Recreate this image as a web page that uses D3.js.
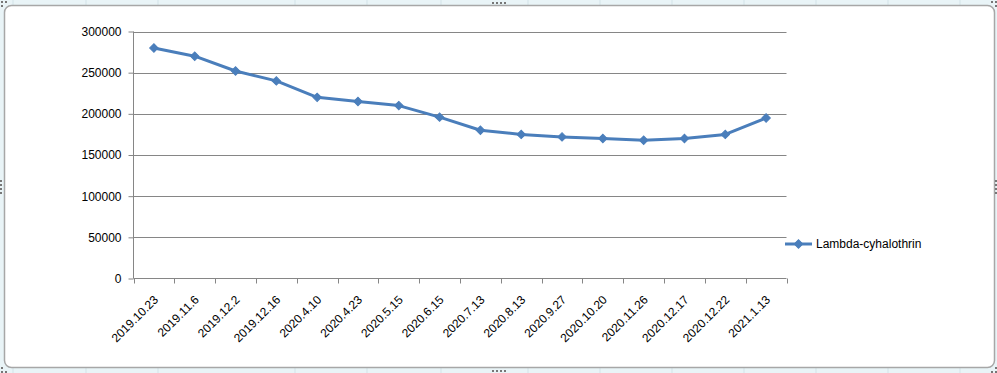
<!DOCTYPE html>
<html><head><meta charset="utf-8">
<script src="https://cdn.jsdelivr.net/npm/d3@7"></script>
<style>html,body{margin:0;padding:0;background:#fff;overflow:hidden}</style>
</head><body>
<script>
const categories = ["2019.10.23","2019.11.6","2019.12.2","2019.12.16","2020.4.10","2020.4.23","2020.5.15","2020.6.15","2020.7.13","2020.8.13","2020.9.27","2020.10.20","2020.11.26","2020.12.17","2020.12.22","2021.1.13"];
const values = [280000,270000,252000,240000,220000,215000,210000,196000,180000,175000,172000,170000,168000,170000,175000,195000];
const yTicks = [0,50000,100000,150000,200000,250000,300000];
const seriesName = "Lambda-cyhalothrin";

(function () {
const W = 997, H = 373;
const svg = d3.select("body").append("svg").attr("width", W).attr("height", H)
  .style("font-family", "'Liberation Sans', Arial, sans-serif");

// spreadsheet background
svg.append("rect").attr("width", W).attr("height", H).attr("fill", "#e9f4f7");
const colLines = [13,86,158,295,367,441,528,600,672,744,816,888,960];
svg.selectAll("line.col").data(colLines).enter().append("line")
  .attr("x1", d => d).attr("x2", d => d).attr("y1", 0).attr("y2", H)
  .attr("stroke", "#d3e3e8").attr("stroke-width", 1);

// chart frame
svg.append("rect").attr("x", 4.5).attr("y", 5.5).attr("width", 990).attr("height", 362)
  .attr("rx", 7).attr("ry", 7).attr("fill", "#fff").attr("stroke", "#a7a7a7").attr("stroke-width", 1.5);

// handles
function dotsH(x0, yy) { for (let i = 0; i < 4; i++) svg.append("rect").attr("x", x0 + i*4).attr("y", yy).attr("width", 2).attr("height", 2).attr("fill", "#777"); }
function dotsV(xx, y0) { for (let i = 0; i < 4; i++) svg.append("rect").attr("x", xx).attr("y", y0 + i*4).attr("width", 2).attr("height", 2).attr("fill", "#777"); }
dotsH(492, 2); dotsH(492, 370); dotsV(0, 180); dotsV(995, 180);
[[1,1],[5,1],[1,5],[991,1],[995,1],[995,5],[1,367],[1,371],[5,371],[991,371],[995,371],[995,367]].forEach(p =>
  svg.append("rect").attr("x", p[0]).attr("y", p[1]).attr("width", 2).attr("height", 2).attr("fill", "#777"));

const pLeft = 133.5, pRight = 786.5, pTop = 31.5, pBottom = 278.5;
const x = d3.scaleBand().domain(categories).range([pLeft, pRight]);
const y = d3.scaleLinear().domain([0, 300000]).range([pBottom, pTop]);

// gridlines
svg.append("g").selectAll("line").data(yTicks.filter(d => d > 0)).enter().append("line")
  .attr("x1", pLeft).attr("x2", pRight).attr("y1", d => Math.round(y(d)) + 0.5).attr("y2", d => Math.round(y(d)) + 0.5)
  .attr("stroke", "#868686").attr("stroke-width", 1);

// y axis
const yAxis = svg.append("g").attr("transform", `translate(${pLeft},0)`)
  .call(d3.axisLeft(y).tickValues(yTicks).tickSize(5).tickPadding(7).tickFormat(d3.format("d")));
yAxis.select(".domain").attr("stroke", "#868686").attr("d", `M0,${pTop}V${pBottom}`);
yAxis.selectAll(".tick line").attr("stroke", "#868686");
yAxis.selectAll(".tick text").attr("fill", "#000").style("font-size", "12px").style("font-family", "'Liberation Sans', Arial, sans-serif");

// x axis
const xAxis = svg.append("g").attr("transform", `translate(0,${pBottom})`)
  .call(d3.axisBottom(x).tickSize(0).tickFormat(""));
xAxis.select(".domain").attr("stroke", "#868686").attr("d", `M${pLeft},0H${pRight}`);
const bounds = categories.map(c => x(c)).concat([pRight]);
xAxis.selectAll("line.bt").data(bounds).enter().append("line").attr("class", "bt")
  .attr("x1", d => Math.round(d) + 0.5).attr("x2", d => Math.round(d) + 0.5).attr("y1", 0).attr("y2", 5)
  .attr("stroke", "#868686");
svg.append("g").selectAll("text").data(categories).enter().append("text")
  .attr("transform", d => `translate(${x(d) + x.bandwidth()/2 + 5},${pBottom + 22}) rotate(-45)`)
  .attr("text-anchor", "end").style("font-size", "12px").attr("fill", "#000").text(d => d);

// line
const color = "#4a7ebb";
const line = d3.line().x((d, i) => x(categories[i]) + x.bandwidth()/2).y(d => y(d));
svg.append("path").datum(values).attr("d", line).attr("fill", "none")
  .attr("stroke", color).attr("stroke-width", 3).attr("stroke-linejoin", "round");
const diamond = d3.symbol().type(d3.symbolSquare).size(36);
svg.append("g").selectAll("path").data(values).enter().append("path")
  .attr("d", diamond)
  .attr("transform", (d, i) => `translate(${x(categories[i]) + x.bandwidth()/2},${y(d)}) rotate(45)`)
  .attr("fill", color).attr("stroke", color).attr("stroke-width", 1);

// legend
const ly = 244;
svg.append("line").attr("x1", 785).attr("x2", 812).attr("y1", ly).attr("y2", ly).attr("stroke", color).attr("stroke-width", 3);
svg.append("path").attr("d", diamond).attr("transform", `translate(798.5,${ly}) rotate(45)`).attr("fill", color).attr("stroke", color);
svg.append("text").attr("x", 816).attr("y", ly + 4).style("font-size", "12px").attr("fill", "#000").text(seriesName);
})();
</script>
</body></html>
